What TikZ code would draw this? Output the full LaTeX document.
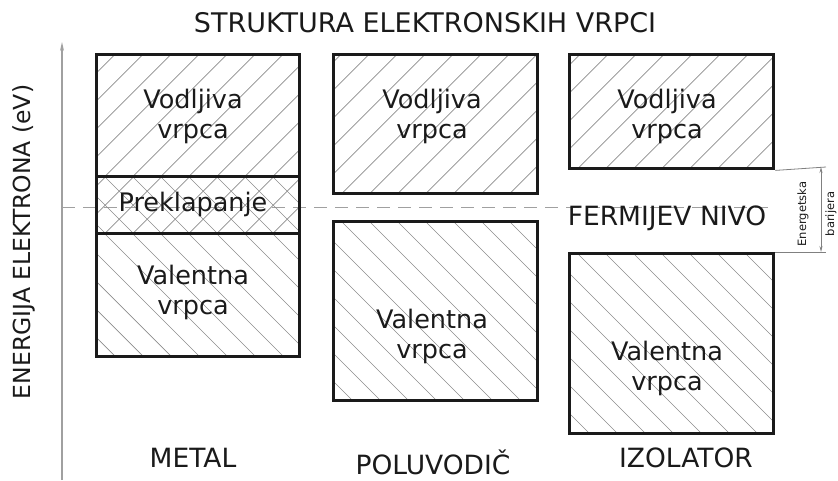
\documentclass[tikz,border=0pt]{standalone}
\usepackage{fontspec}
\setmainfont{DejaVu Sans}
\usetikzlibrary{arrows.meta}
\definecolor{ink}{HTML}{1A1A1A}
\definecolor{hatchc}{HTML}{8C8C8C}
\definecolor{axisc}{HTML}{A0A0A0}
\tikzset{
  hatchline/.style={draw=hatchc, line width=0.7pt},
  hatchne/.style={path picture={\foreach \k in {0,...,26}{\draw[hatchline] ([xshift=-300pt+\k*28pt]path picture bounding box.south west) -- ++(320pt,320pt);}}},
  hatchse/.style={path picture={\foreach \k in {0,...,26}{\draw[hatchline] ([xshift=-300pt+\k*28pt]path picture bounding box.north west) -- ++(320pt,-320pt);}}},
  hatchx/.style={path picture={\foreach \k in {0,...,26}{\draw[hatchline] ([xshift=-300pt+\k*28pt]path picture bounding box.south west) -- ++(320pt,320pt); \draw[hatchline] ([xshift=-300pt+\k*28pt]path picture bounding box.north west) -- ++(320pt,-320pt);}}},
  band/.style={draw=ink, line width=3.4pt, rectangle, inner sep=0pt, anchor=north west},
  bandtxt/.style={align=center, text=ink, font=\fontsize{25.5}{30}\selectfont},
  lbl/.style={text=ink, font=\fontsize{26.5}{31}\selectfont},
  axisline/.style={draw=axisc, line width=1.1pt},
  fermi/.style={draw=axisc, line width=1pt, dash pattern=on 13pt off 8pt},
  dimline/.style={draw=axisc!80!black, line width=0.8pt},
  dimtxt/.style={text=ink, font=\fontsize{11.5}{13}\selectfont}
}
\begin{document}
\begin{tikzpicture}[x=1pt,y=-1pt]
\useasboundingbox (0,0) rectangle (838,480);
% title
\node[lbl, font=\fontsize{27}{32}\selectfont] (title) at (425,23) {STRUKTURA ELEKTRONSKIH VRPCI};
% axis
\coordinate (axb) at (62,480);
\coordinate (axt) at (62,42);
\draw[axisline, -{Stealth[length=9pt,width=4pt]}] (axb) -- (axt);
\node[lbl, rotate=90, font=\fontsize{23.5}{28}\selectfont] (ylab) at (24,242) {ENERGIJA ELEKTRONA (eV)};
% fermi level
\coordinate (fl) at (62,207);
\coordinate (fr) at (772,207);
\draw[fermi] (fl) -- (fr);
% metal
\node[band, hatchne, minimum width=203pt, minimum height=122pt] (mv) at (95,53) {};
\node[band, hatchx, minimum width=203pt, minimum height=57pt] (mp) at (95,175) {};
\node[band, hatchse, minimum width=203pt, minimum height=123pt] (mval) at (95,232) {};
\node[bandtxt] (mvt) at (193,116) {Vodljiva\\vrpca};
\node[bandtxt] (mpt) at (193,204) {Preklapanje};
\node[bandtxt] (mvalt) at (193,292) {Valentna\\vrpca};
% semiconductor
\node[band, hatchne, minimum width=204pt, minimum height=139pt] (sv) at (332,53) {};
\node[band, hatchse, minimum width=204pt, minimum height=179pt] (sval) at (332,220) {};
\node[bandtxt] (svt) at (432,116) {Vodljiva\\vrpca};
\node[bandtxt] (svalt) at (432,336) {Valentna\\vrpca};
% insulator
\node[band, hatchne, minimum width=204pt, minimum height=114pt] (iv) at (568,53) {};
\node[band, hatchse, minimum width=204pt, minimum height=180pt] (ival) at (568,252) {};
\node[bandtxt] (ivt) at (667,116) {Vodljiva\\vrpca};
\node[bandtxt] (ivalt) at (667,368) {Valentna\\vrpca};
\node[lbl] (fermit) at (667,218) {FERMIJEV NIVO};
% energy barrier dimension
\coordinate (e1) at (826,167);
\coordinate (e2) at (826,252);
\coordinate (a1) at (821,167);
\coordinate (a2) at (821,252);
\draw[dimline] (iv.south east) -- (e1);
\draw[dimline] (ival.north east) -- (e2);
\draw[dimline, {Stealth[length=6pt,width=3pt]}-{Stealth[length=6pt,width=3pt]}] (a1) -- (a2);
\node[dimtxt, rotate=90] (bt1) at (803,214) {Energetska};
\node[dimtxt, rotate=90] (bt2) at (831,214) {barijera};
% bottom labels
\node[lbl] (metal) at (193,458) {METAL};
\node[lbl] (semi) at (433,462) {POLUVODIČ};
\node[lbl] (iso) at (686,458) {IZOLATOR};
\end{tikzpicture}
\end{document}
